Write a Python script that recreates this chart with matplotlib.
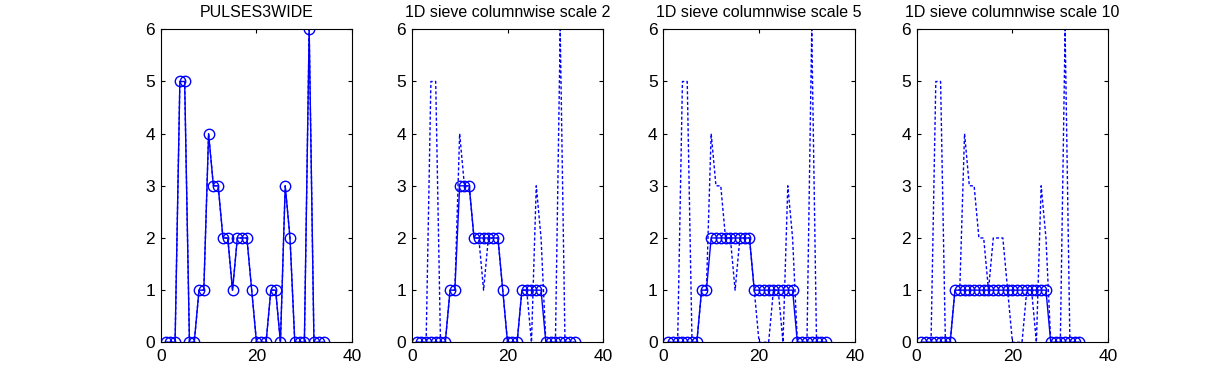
import numpy as np
import matplotlib.pyplot as plt

plt.rcParams['font.family'] = ['Liberation Sans', 'DejaVu Sans']

x = np.arange(1, 35)

pulses = [0, 0, 0, 5, 5, 0, 0, 1, 1, 4, 3, 3, 2, 2, 1, 2, 2, 2, 1, 0,
          0, 0, 1, 1, 0, 3, 2, 0, 0, 0, 6, 0, 0, 0]
scale2 = [0, 0, 0, 0, 0, 0, 0, 1, 1, 3, 3, 3, 2, 2, 2, 2, 2, 2, 1, 0,
          0, 0, 1, 1, 1, 1, 1, 0, 0, 0, 0, 0, 0, 0]
scale5 = [0, 0, 0, 0, 0, 0, 0, 1, 1, 2, 2, 2, 2, 2, 2, 2, 2, 2, 1, 1,
          1, 1, 1, 1, 1, 1, 1, 0, 0, 0, 0, 0, 0, 0]
scale10 = [0, 0, 0, 0, 0, 0, 0, 1, 1, 1, 1, 1, 1, 1, 1, 1, 1, 1, 1, 1,
           1, 1, 1, 1, 1, 1, 1, 0, 0, 0, 0, 0, 0, 0]

titles = ["PULSES3WIDE", "1D sieve columnwise scale 2",
          "1D sieve columnwise scale 5", "1D sieve columnwise scale 10"]
results = [pulses, scale2, scale5, scale10]

fig = plt.figure(figsize=(12.24, 3.84), dpi=100)
lefts = [0.1313, 0.3364, 0.5419, 0.7489]
blue = "#0000ff"

for left, title, res in zip(lefts, titles, results):
    ax = fig.add_axes([left, 0.1086, 0.1565, 0.815])
    ax.plot(x, res, "-", color=blue, lw=1.0, marker="o", ms=7.5,
            mfc="none", mec=blue, mew=1.0)
    ax.plot(x, pulses, color=blue, lw=1.0, linestyle=(0, (2.2, 1.6)))
    ax.set_xlim(0, 40)
    ax.set_ylim(0, 6)
    ax.set_xticks([0, 20, 40])
    ax.set_yticks(range(7))
    ax.tick_params(direction="in", top=True, right=True, length=3,
                   width=0.8, labelsize=12.5, pad=4)
    ax.tick_params(axis="x", pad=5)
    for s in ax.spines.values():
        s.set_linewidth(0.8)
    ax.set_title(title, fontsize=11.5, pad=9)

plt.savefig("out.png", dpi=100)
